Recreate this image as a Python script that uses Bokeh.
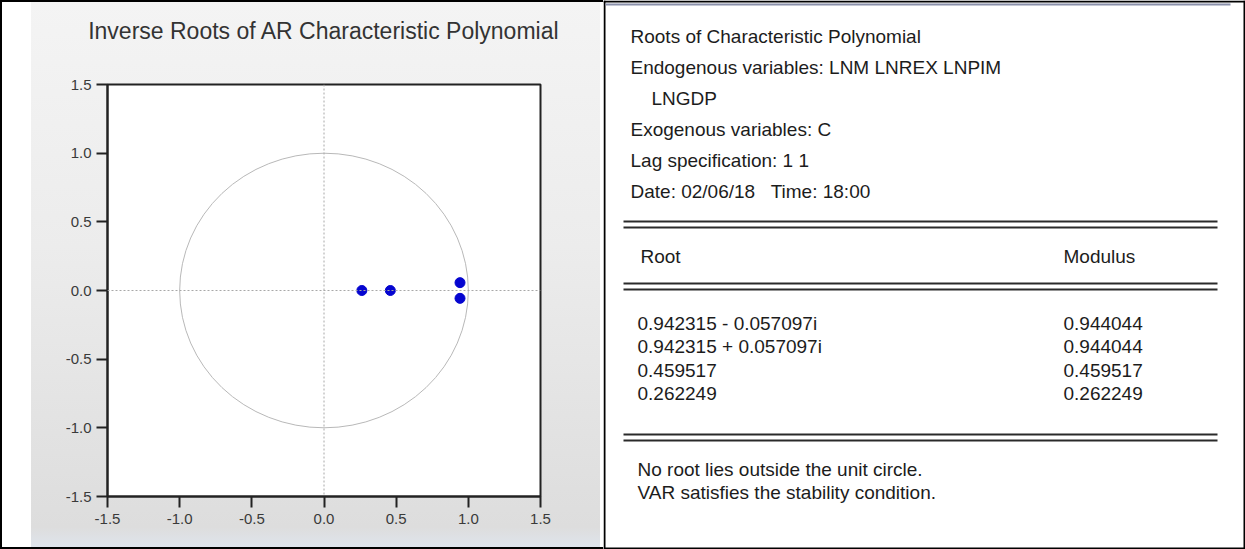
from bokeh.plotting import figure
from bokeh.layouts import row
from bokeh.models import Range1d, FixedTicker, Span
from bokeh.embed import file_html
from bokeh.resources import INLINE
from bokeh.core.properties import value

# ---------------- data ----------------
chart_title = "Inverse Roots of AR Characteristic Polynomial"
root_re = [0.942315, 0.942315, 0.459517, 0.262249]
root_im = [-0.057097, 0.057097, 0.0, 0.0]
root_text = ["0.942315 - 0.057097i", "0.942315 + 0.057097i", "0.459517", "0.262249"]
modulus_text = ["0.944044", "0.944044", "0.459517", "0.262249"]
axis_ticks = [-1.5, -1.0, -0.5, 0.0, 0.5, 1.0, 1.5]
tick_labels = ["-1.5", "-1.0", "-0.5", "0.0", "0.5", "1.0", "1.5"]
header_lines = ["Roots of Characteristic Polynomial",
                "Endogenous variables: LNM LNREX LNPIM",
                "LNGDP",
                "Exogenous variables: C",
                "Lag specification: 1 1",
                "Date: 02/06/18\u00a0\u00a0 Time: 18:00"]
column_headers = ["Root", "Modulus"]
footer_lines = ["No root lies outside the unit circle.",
                "VAR satisfies the stability condition."]

FONT = "Liberation Sans"
H = 549
LW = 603
RW = 1245 - LW

# ---------------- left: inverse roots chart ----------------
FL, FR, FT, FB = 107, 540, 83, 496
p = figure(width=LW, height=H, x_range=Range1d(-1.5, 1.5), y_range=Range1d(-1.5, 1.5),
           output_backend="svg", toolbar_location=None,
           min_border_left=FL, min_border_right=LW - FR,
           min_border_top=FT, min_border_bottom=H - FB,
           title=chart_title)
p.frame_align = False
p.border_fill_alpha = 0
p.background_fill_color = "white"
p.styles = {
    "background": "linear-gradient(to right, #ffffff 0px, #ffffff 31px, transparent 31px, "
                  "transparent 600px, #ffffff 600px), "
                  "linear-gradient(to bottom, #f4f4f4 0%, #ececec 45%, #dddddd 96%, #dfe5ee 100%)",
    "box-shadow": "inset 2px 2px 0 #000000, inset 0 -2px 0 #000000",
}
p.title.align = "center"
p.title.vertical_align = "top"
p.title.padding = (0, 0, 17, 39)   # left, right, top, bottom
p.title.standoff = 0
p.title.text_font = FONT
p.title.text_font_size = "23px"
p.title.text_font_style = "normal"
p.title.text_color = "#333333"

p.outline_line_color = "#222222"
p.outline_line_width = 2
p.outline_line_alpha = 1
p.xgrid.visible = False
p.ygrid.visible = False
for ax in (p.xaxis, p.yaxis):
    ax.ticker = FixedTicker(ticks=axis_ticks)
    ax.major_label_overrides = {t: l for t, l in zip(axis_ticks, tick_labels)}
    ax.major_tick_out = 11
    ax.major_tick_in = 0
    ax.minor_tick_out = 0
    ax.minor_tick_in = 0
    ax.major_tick_line_width = 2
    ax.major_tick_line_color = "#222222"
    ax.axis_line_width = 2
    ax.axis_line_color = "#222222"
    ax.major_label_text_font = FONT
    ax.major_label_text_font_size = "15px"
    ax.major_label_text_color = "#3a3a3a"
p.xaxis.major_label_standoff = 6
p.yaxis.major_label_standoff = 5

p.add_layout(Span(location=0, dimension="height", line_color="#a8a8a8", line_dash="2 2", line_width=1))
p.add_layout(Span(location=0, dimension="width", line_color="#a8a8a8", line_dash="2 2", line_width=1))
p.ellipse(x=[0], y=[0], width=[2], height=[2], fill_alpha=0, line_color="#b8b8b8", line_width=1)
p.scatter(root_re, root_im, size=10, fill_color="#0505d0", line_color="#0505d0")

# ---------------- right: roots table ----------------
q = figure(width=RW, height=H, x_range=Range1d(0, RW), y_range=Range1d(H, 0),
           output_backend="svg", toolbar_location=None, min_border=0,
           x_axis_type=None, y_axis_type=None)
q.frame_align = False
q.xgrid.visible = False
q.ygrid.visible = False
q.outline_line_color = None
q.background_fill_color = "white"
q.border_fill_color = "white"

TX = 27
hdr_x = [TX, TX, TX + 21, TX, TX, TX]
hdr_y = [36, 67, 98, 129, 160, 191]
txt = dict(text_font=value(FONT), text_font_size="19px", text_baseline="middle",
           text_color="#1c1c1c")
q.text(x=hdr_x, y=hdr_y, text=header_lines, **txt)
q.text(x=[37, 460], y=[256, 256], text=column_headers, **txt)
row_y = [323, 346, 370, 393]
q.text(x=[34] * 4, y=row_y, text=root_text, **txt)
q.text(x=[460] * 4, y=row_y, text=modulus_text, **txt)
q.text(x=[34, 34], y=[469, 492], text=footer_lines, **txt)

dbl_y = [221, 227, 283, 289, 434, 440]
q.segment(x0=[20] * 6, y0=dbl_y, x1=[614] * 6, y1=dbl_y, line_color="#2a2a2a", line_width=2)
# frame lines
q.segment(x0=[0, 1, 0, RW - 1], y0=[1, 0, H - 1, 0], x1=[RW, 1, RW, RW - 1], y1=[1, H, H - 1, H],
          line_color="#000000", line_width=2)
q.segment(x0=[2], y0=[4], x1=[627], y1=[4], line_color="#8a90aa", line_width=2)

layout = row(p, q, spacing=0)
open("out.html", "w").write(file_html(layout, INLINE))
